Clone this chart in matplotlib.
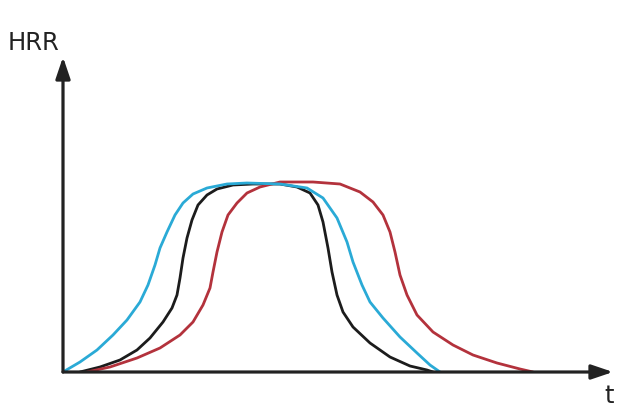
import matplotlib
matplotlib.use("Agg")
import matplotlib.pyplot as plt

# Curves: t (time offset) and HRR (heat release rate), arbitrary units
cyan_t = [0, 17, 34, 50, 64, 77, 85, 92, 97, 104, 112, 120, 130, 144, 164, 184, 217,
          244, 260, 274, 284, 290, 299, 307, 320, 337, 354, 367, 377]
cyan_h = [0, 10, 22, 37, 52, 70, 87, 107, 124, 140, 157, 169, 178, 184, 188, 189, 188,
          184, 174, 154, 130, 110, 87, 70, 54, 35, 19, 7, 0]

black_t = [17, 37, 57, 74, 87, 100, 109, 114, 117, 120, 124, 129, 135, 144, 154, 170, 190, 217,
           234, 247, 255, 260, 265, 269, 274, 280, 290, 307, 327, 347, 364, 370]
black_h = [0, 5, 12, 22, 34, 50, 64, 77, 94, 114, 134, 152, 167, 177, 183, 187, 188, 188,
           185, 179, 167, 150, 124, 100, 77, 60, 45, 29, 15, 6, 2, 0]

red_t = [24, 47, 74, 97, 117, 130, 140, 147, 150, 154, 159, 165, 174, 184, 197, 217, 250,
         277, 297, 310, 320, 327, 332, 337, 344, 354, 370, 390, 410, 434, 457, 470]
red_h = [0, 5, 14, 24, 37, 50, 67, 84, 100, 120, 140, 157, 169, 179, 185, 190, 190,
         188, 180, 170, 157, 140, 120, 97, 77, 57, 40, 27, 17, 9, 3, 0]

W, H = 638, 416
fig = plt.figure(figsize=(W / 100, H / 100), dpi=100)
x0, y0, x1, y1 = 63, 372, 613, 57
ax = fig.add_axes([x0 / W, 1 - y0 / H, (x1 - x0) / W, (y0 - y1) / H])
ax.set_xlim(0, x1 - x0)
ax.set_ylim(0, y0 - y1)
ax.axis("off")

lw = 2.0
style = dict(lw=lw, solid_joinstyle="round", solid_capstyle="round")
ax.plot(black_t, black_h, color="#1c1c1c", **style)
ax.plot(red_t, red_h, color="#b3323c", **style)
ax.plot(cyan_t, cyan_h, color="#2aaad6", **style)

arrow = dict(arrowstyle="-|>,head_length=0.65,head_width=0.22", lw=2.3,
             color="#222222", mutation_scale=20, shrinkA=0, shrinkB=0)
ax.annotate("", xy=(1, 0), xytext=(0, 0), xycoords="axes fraction", arrowprops=arrow)
ax.annotate("", xy=(0, 1), xytext=(0, 0), xycoords="axes fraction", arrowprops=arrow)

fig.text(8 / W, 1 - 50 / H, "HRR", fontsize=17.5, color="#222222", va="baseline", ha="left")
fig.text(609 / W, 1 - 403 / H, "t", fontsize=17.5, color="#222222", va="baseline", ha="center")

fig.savefig("out.png", dpi=100, facecolor="white")
